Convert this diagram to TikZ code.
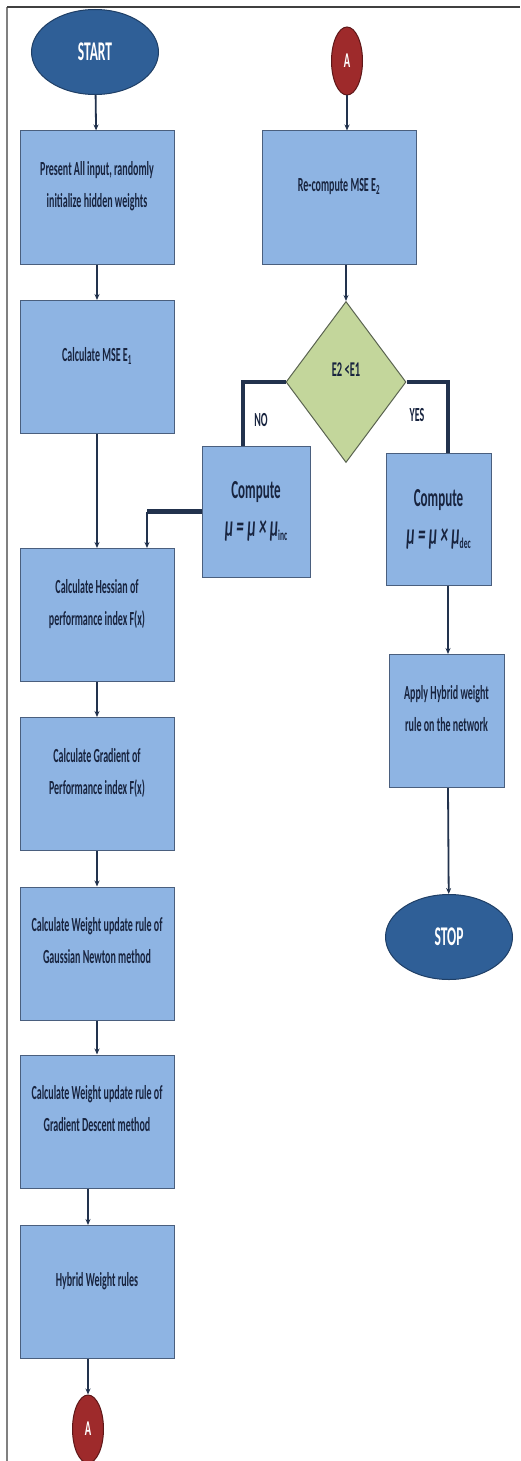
\documentclass[tikz,border=0pt]{standalone}
\usepackage{fontspec}
\newfontfamily\flowfont[FakeStretch=0.5]{Carlito}
\usetikzlibrary{shapes.geometric,arrows.meta}

\definecolor{boxblue}{HTML}{8EB4E3}
\definecolor{boxline}{HTML}{4A5F7E}
\definecolor{termblue}{HTML}{2F5F97}
\definecolor{termline}{HTML}{1F3F66}
\definecolor{connred}{HTML}{9E2A2B}
\definecolor{connline}{HTML}{5E1718}
\definecolor{decgreen}{HTML}{C3D69B}
\definecolor{decline}{HTML}{5A6350}
\definecolor{flowline}{HTML}{22324D}
\definecolor{flowtext}{HTML}{18243F}

\newcommand{\subsmall}[1]{\raisebox{-4pt}{\upshape\fontsize{15}{15}\selectfont #1}}

\tikzset{
  flowbox/.style={rectangle, draw=boxline, fill=boxblue, line width=1pt,
    minimum width=154pt, minimum height=133pt, inner sep=0pt, align=center,
    text=flowtext},
  procbox/.style={flowbox, font=\flowfont\bfseries\fontsize{20}{32}\selectfont, text depth=26pt},
  calcbox/.style={flowbox, font=\flowfont\bfseries\fontsize{26}{38}\selectfont},
  terminal/.style={ellipse, draw=termline, fill=termblue, line width=1pt,
    minimum width=127pt, minimum height=85pt, inner sep=0pt, text=white,
    font=\flowfont\bfseries\fontsize{27}{30}\selectfont},
  connector/.style={ellipse, draw=connline, fill=connred, line width=1pt,
    minimum width=31pt, minimum height=68pt, inner sep=0pt, text=white,
    font=\flowfont\bfseries\fontsize{21}{24}\selectfont},
  decision/.style={diamond, draw=decline, fill=decgreen, line width=1pt,
    minimum width=120pt, minimum height=161pt, inner sep=0pt, text=flowtext,
    font=\flowfont\bfseries\fontsize{21}{24}\selectfont, text depth=24pt},
  tag/.style={text=flowtext, font=\flowfont\bfseries\fontsize{20}{24}\selectfont},
  flow/.style={draw=flowline, line width=1.8pt, -{Stealth[length=6pt,width=5pt]}},
  thickline/.style={draw=flowline, line width=4.5pt}
}

\begin{document}
\begin{tikzpicture}[x=1pt,y=-1pt]
  \useasboundingbox (0,0) rectangle (520,1461);

  % frame
  \draw[gray, line width=1.5pt] (7,1461) -- (7,7);
  \draw[black!75, line width=1.5pt] (7,7) -- (520,7);

  \begin{scope}[every node/.style={procbox}]
    \node (present) at (97,197.5)  {Present All input, randomly\\initialize hidden weights};
    \node (mse)     at (97,367)    {Calculate MSE E\textsubscript{1}};
    \node (hess)    at (97,615)    {Calculate Hessian of\\performance index F(x)};
    \node (grad)    at (97,784)    {Calculate Gradient of\\Performance index F(x)};
    \node (gauss)   at (97,953.5)  {Calculate Weight update rule of\\Gaussian Newton method};
    \node (gdesc)   at (97,1121.5) {Calculate Weight update rule of\\Gradient Descent method};
    \node (hybrid)  at (97,1292)   {Hybrid Weight rules};
    \node (recomp)  at (339,197.5) {Re-compute MSE E\textsubscript{2}};
    \node[minimum width=115pt] (apply) at (446.5,721) {Apply Hybrid weight\\rule on the network};
  \end{scope}

  \begin{scope}[every node/.style={calcbox}]
    \node[minimum width=108pt, minimum height=131pt] (inc) at (256,511.5)
      {Compute\\{\fontsize{30}{38}\selectfont\itshape μ = μ × μ\subsmall{inc}}};
    \node[minimum width=105pt, minimum height=132pt] (dec) at (438.5,519)
      {Compute\\{\fontsize{30}{38}\selectfont\itshape μ = μ × μ\subsmall{dec}}};
  \end{scope}

  \node[terminal] (start) at (95,52)   {START};
  \node[terminal] (stop)  at (449,937) {STOP};
  \node[connector] (atop) at (347,61)  {A};
  \node[connector] (abot) at (88,1429) {A};
  \node[decision] (test)  at (346,382) {E2 <E1};

  \node[tag] (no)  at (261,420) {NO};
  \node[tag] (yes) at (417,415) {YES};

  \coordinate (nodrop)  at (243,382);
  \coordinate (yesdrop) at (448,382);
  \coordinate (back)    at (147,511.5);

  % decision branches
  \draw[thickline] (test.west) -- (nodrop) -- (nodrop |- inc.north);
  \draw[thickline] (test.east) -- (yesdrop) -- (yesdrop |- dec.north);
  \draw[thickline] (inc.west) -- (back);

  \begin{scope}[every edge/.style={flow}]
    \path (start)  edge (present);
    \path (present) edge (mse);
    \path (mse)    edge (hess);
    \path (hess)   edge (grad);
    \path (grad)   edge (gauss);
    \path (gauss)  edge (gdesc);
    \path (gdesc.south -| abot) edge (hybrid.north -| abot);
    \path (hybrid.south -| abot) edge (abot);
    \path (atop)   edge (atop |- recomp.north);
    \path (recomp.south -| test) edge (test);
    \path (back)   edge (back |- hess.north);
    \path (dec.south -| yesdrop) edge (apply.north -| yesdrop);
    \path (apply.south -| yesdrop) edge (stop);
  \end{scope}

\end{tikzpicture}
\end{document}
